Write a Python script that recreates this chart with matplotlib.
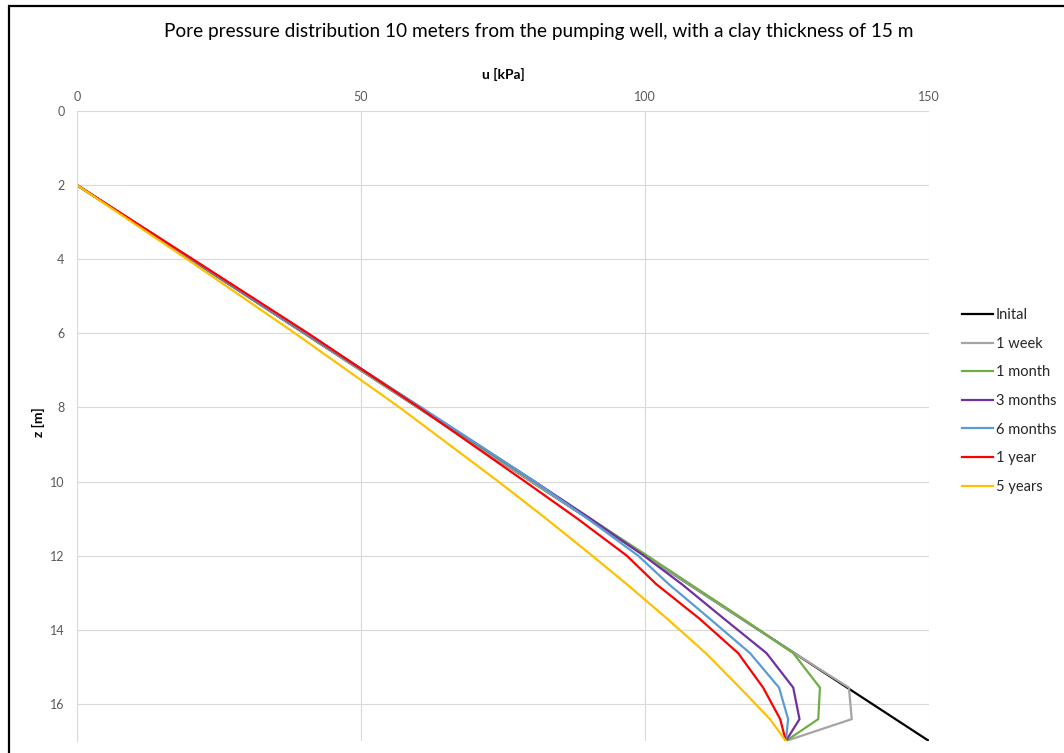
import matplotlib
matplotlib.use("Agg")
import matplotlib.pyplot as plt
from matplotlib.patches import Rectangle

plt.rcParams['font.family'] = ['Lato', 'DejaVu Sans']

# Depth nodes [m] and pore pressure [kPa] for each time step
z = [2, 4, 6, 8, 10, 11, 12, 12.77, 13.70, 14.63, 15.56, 16.41, 17]

u_initial = [0, 20, 40, 60, 80, 90, 100, 107.7, 117.0, 126.3, 135.6, 144.1, 150]
u_1week = [0, 20, 40, 60, 80, 90, 100, 107.7, 117.0, 126.3, 135.9, 136.4, 124.8]
u_1month = [0, 20.1, 40.2, 60.3, 80.4, 90.4, 100.4, 108.0, 117.2, 126.1, 130.8, 130.5, 124.8]
u_3months = [0, 20.1, 40.3, 60.5, 80.6, 90.4, 99.8, 106.5, 113.9, 121.4, 126.1, 127.2, 124.8]
u_6months = [0, 20.2, 40.4, 60.6, 80.6, 89.9, 98.8, 104.2, 111.4, 118.5, 123.6, 125.2, 124.8]
u_1year = [0, 20.4, 40.7, 60.2, 78.9, 88.1, 96.8, 102.0, 109.6, 116.4, 120.8, 123.8, 124.8]
u_5years = [0, 19.4, 38.4, 56.8, 74.2, 82.6, 90.7, 96.8, 103.9, 110.7, 116.7, 122.0, 124.8]

labels = ["Inital", "1 week", "1 month", "3 months", "6 months", "1 year", "5 years"]
series = [u_initial, u_1week, u_1month, u_3months, u_6months, u_1year, u_5years]
colors = ["#000000", "#A5A5A5", "#70AD47", "#7030A0", "#5B9BD5", "#FF0000", "#FFC000"]

x_ticks = [0, 50, 100, 150]
z_ticks = [0, 2, 4, 6, 8, 10, 12, 14, 16]

W, H = 1064, 753
fig = plt.figure(figsize=(W / 100, H / 100), dpi=100)

# outer chart frame (runs off the right and bottom edges)
fig.patches.append(Rectangle((8.5 / W, -0.1), 1.2, 1 - 6.5 / H + 0.1,
                             transform=fig.transFigure, fill=False,
                             edgecolor="#000000", linewidth=1.6))

ax = fig.add_axes([77 / W, 1 - 741 / H, (929 - 77) / W, (741 - 111) / H])

for u, lab, col in zip(series, labels, colors):
    ax.plot(u, z, color=col, lw=1.6, label=lab, solid_joinstyle="miter")

ax.set_xlim(0, 150)
ax.set_ylim(17, 0)
ax.xaxis.set_ticks_position("top")
ax.xaxis.set_label_position("top")
ax.set_xticks(x_ticks)
ax.set_yticks(z_ticks)
ax.tick_params(length=0, labelsize=9, labelcolor="#595959")
ax.tick_params(axis="x", pad=6)
ax.tick_params(axis="y", pad=9)

ax.grid(True, color="#D9D9D9", lw=0.8)
ax.set_axisbelow(True)
for side in ["top", "right", "bottom"]:
    ax.spines[side].set_visible(False)
ax.spines["left"].set_color("#D9D9D9")
ax.spines["left"].set_linewidth(0.8)

ax.set_xlabel("u [kPa]", fontsize=10, fontweight="bold")
ax.xaxis.set_label_coords(0.5, (741 - 74) / 630)
ax.xaxis.label.set_va("center")
ax.set_ylabel("z [m]", fontsize=10, fontweight="bold")
ax.yaxis.set_label_coords((38 - 77) / 852, (741 - 422) / 630)
ax.yaxis.label.set_va("center")

fig.text(539 / W, 1 - 32 / H,
         "Pore pressure distribution 10 meters from the pumping well, with a clay thickness of 15 m",
         ha="center", va="center", fontsize=13.7, color="#000000")

fig.legend(loc="center left", bbox_to_anchor=(962 / W, 1 - 401 / H),
           frameon=False, fontsize=10.5, handlelength=2.1, handletextpad=0.22,
           labelspacing=1.0, borderpad=0, borderaxespad=0,
           labelcolor="#262626")

fig.savefig("out.png", dpi=100)
